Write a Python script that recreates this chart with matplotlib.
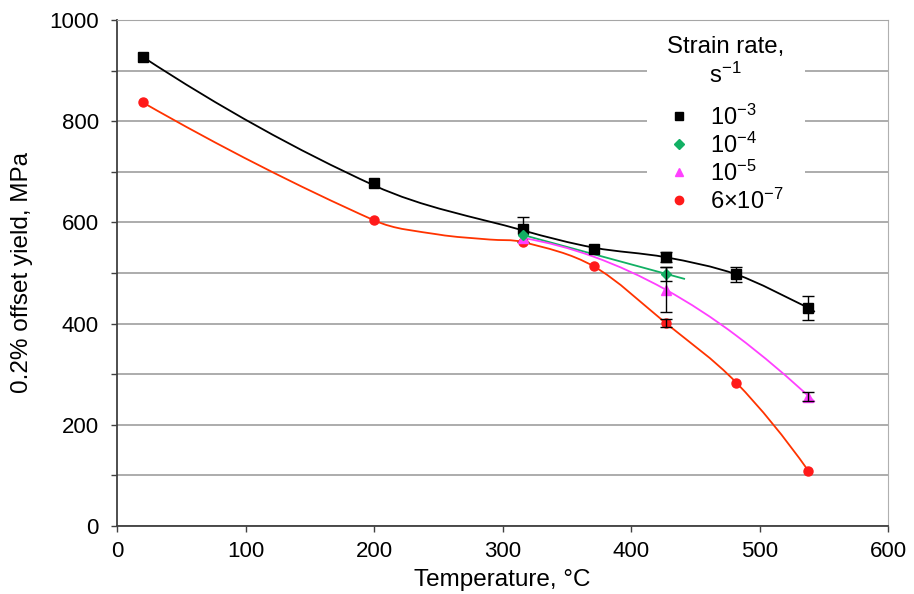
import numpy as np
import matplotlib
matplotlib.use("Agg")
import matplotlib.pyplot as plt
from matplotlib.path import Path
from matplotlib.patches import PathPatch, Rectangle
from matplotlib.ticker import MultipleLocator

plt.rcParams['font.family'] = ['Liberation Sans', 'DejaVu Sans']
plt.rcParams['mathtext.fontset'] = 'custom'
plt.rcParams['mathtext.rm'] = 'Liberation Sans'
plt.rcParams['mathtext.it'] = 'Liberation Sans'

temp_1e3 = [20, 200, 316, 371, 427, 482, 538]
yield_1e3 = [927, 678, 586, 547, 532, 497, 431]
err_1e3 = [0, 0, 25, 0, 10, 14, 24]

temp_1e4 = [316, 427]
yield_1e4 = [574, 498]
err_1e4 = [0, 14]

temp_1e5 = [316, 427, 538]
yield_1e5 = [569, 467, 255]
err_1e5 = [0, 44, 9]

temp_6e7 = [20, 200, 316, 371, 427, 482, 538]
yield_6e7 = [837, 605, 562, 513, 401, 283, 109]
err_6e7 = [0, 0, 0, 0, 8, 0, 0]

# --- fitted curves, knots ---
fit_t_1e3 = [20, 200, 316, 371, 427, 482, 538, 543]
fit_y_1e3 = [927, 673, 584, 550, 531, 497, 431, 423]
fit_t_1e4 = [316, 442]
fit_y_1e4 = [575, 488]
fit_t_1e5 = [316, 371, 427, 482, 543]
fit_y_1e5 = [569, 532, 467, 376, 245]
fit_t_6e7 = [20, 200, 250, 290, 316, 371, 427, 482, 538]
fit_y_6e7 = [837, 604, 576, 566, 561, 513, 401, 283, 109]

labels = [r'$10^{-3}$', r'$10^{-4}$', r'$10^{-5}$', r'$6{\times}10^{-7}$']

BLACK = 'black'
GREEN = '#12b064'
MAGENTA = '#ff40ff'
RED_LINE = '#ff3300'
RED_MARK = '#ff1a1a'

fig = plt.figure(figsize=(9.14, 5.94), dpi=100)
ax = fig.add_axes([0.128, 0.1145, 0.8436, 0.852])


def smooth_line(t, y, color):
    # smoothed line through the knots (cubic Hermite as Bezier segments)
    t = np.asarray(t, float)
    y = np.asarray(y, float)
    n = len(t)
    chord = np.diff(y) / np.diff(t)
    m = np.empty(n)
    if n == 2:
        m[:] = chord[0]
    else:
        m[1:-1] = (y[2:] - y[:-2]) / (t[2:] - t[:-2])
        m[0] = 2 * chord[0] - m[1]
        m[-1] = 2 * chord[-1] - m[-2]
    verts = [(t[0], y[0])]
    codes = [Path.MOVETO]
    for i in range(n - 1):
        d = (t[i + 1] - t[i]) / 3
        verts += [(t[i] + d, y[i] + m[i] * d),
                  (t[i + 1] - d, y[i + 1] - m[i + 1] * d),
                  (t[i + 1], y[i + 1])]
        codes += [Path.CURVE4] * 3
    ax.add_patch(PathPatch(Path(verts, codes), fill=False, edgecolor=color,
                           lw=1.3, zorder=3))


smooth_line(fit_t_1e3, fit_y_1e3, BLACK)
smooth_line(fit_t_1e4, fit_y_1e4, GREEN)
smooth_line(fit_t_1e5, fit_y_1e5, MAGENTA)
smooth_line(fit_t_6e7, fit_y_6e7, RED_LINE)

series = [
    (temp_1e3, yield_1e3, err_1e3, 's', BLACK, 6.5),
    (temp_6e7, yield_6e7, err_6e7, 'o', RED_MARK, 6.5),
    (temp_1e5, yield_1e5, err_1e5, '^', MAGENTA, 6.5),
    (temp_1e4, yield_1e4, err_1e4, 'D', GREEN, 5.5),
]
for x, y, e, m, c, ms in series:
    ax.plot(x, y, m, color=c, ms=ms, zorder=4)
    xe = [a for a, b in zip(x, e) if b > 0]
    ye = [a for a, b in zip(y, e) if b > 0]
    ee = [b for b in e if b > 0]
    ax.errorbar(xe, ye, yerr=ee, fmt='none', ecolor='black', elinewidth=1,
                capsize=4, capthick=1, zorder=4)

# legend (markers only) on a white patch that hides the grid
ax.add_patch(Rectangle((0.687, 0.612), 0.205, 0.38, transform=ax.transAxes,
                       facecolor='white', edgecolor='none', zorder=1))
h1, = ax.plot([], [], 's', color=BLACK, ms=5.5)
h2, = ax.plot([], [], 'D', color=GREEN, ms=5)
h3, = ax.plot([], [], '^', color=MAGENTA, ms=6)
h4, = ax.plot([], [], 'o', color=RED_MARK, ms=6)
leg = ax.legend([h1, h2, h3, h4], labels, title='Strain rate,\n' + r's$^{-1}$',
                loc='upper center', bbox_to_anchor=(0.789, 1.0), fontsize=17,
                title_fontsize=17.3, frameon=False, handlelength=1.0,
                handletextpad=0.8, labelspacing=0.12, borderpad=0.2)
leg.get_title().set_multialignment('center')
leg._legend_box.sep = 12
leg.set_zorder(5)

ax.set_xlim(0, 600)
ax.set_ylim(0, 1000)
ax.xaxis.set_major_locator(MultipleLocator(100))
ax.yaxis.set_major_locator(MultipleLocator(200))
ax.yaxis.set_minor_locator(MultipleLocator(100))
ax.grid(True, axis='y', which='both', color='#a6a6a6', lw=1.3, zorder=0)
ax.set_axisbelow(True)

for s in ['left', 'bottom']:
    ax.spines[s].set_color('#404040')
    ax.spines[s].set_linewidth(1.3)
ax.spines['right'].set_color('#b0b0b0')
ax.spines['top'].set_color('#a6a6a6')
ax.tick_params(axis='both', which='both', direction='out', length=4,
               width=1, color='#404040', labelsize=16)
ax.tick_params(axis='y', pad=9)
ax.tick_params(axis='x', pad=7)

ax.set_xlabel('Temperature, °C', fontsize=17.5, labelpad=5)
ax.set_ylabel('0.2% offset yield, MPa', fontsize=17.5, labelpad=12)

fig.savefig('out.png', dpi=100)
